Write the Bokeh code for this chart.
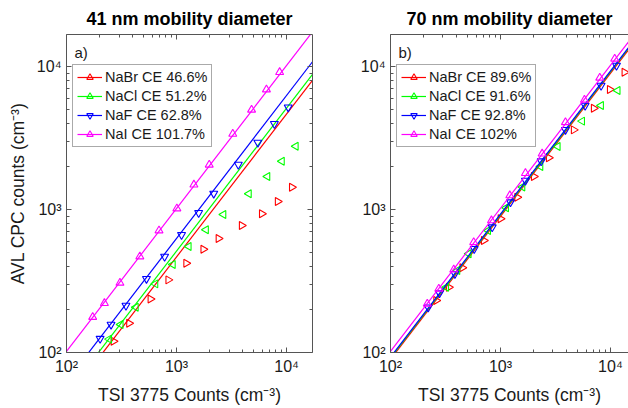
import math
from bokeh.plotting import figure
from bokeh.layouts import row
from bokeh.models import (LogAxis, FixedTicker, CustomJSTickFormatter, Legend,
                          LegendItem, Label, Range1d)
from bokeh.embed import file_html
from bokeh.resources import INLINE

# ---------------- data ----------------
SALTS = ["NaBr", "NaCl", "NaF", "NaI"]
COLORS = ["#ff0000", "#00ff00", "#0000ff", "#ff00ff"]
MARKERS = ["triangle", "triangle", "inverted_triangle", "triangle"]
ANGLES = [-math.pi / 2, math.pi / 2, 0.0, 0.0]   # right, left, down, up

# 41 nm panel: counting efficiency (%) and points (TSI counts, AVL counts)
ce_41 = [46.6, 51.2, 62.8, 101.7]
ce_41_text = ["46.6", "51.2", "62.8", "101.7"]
nabr_41_x = [267, 370, 579, 841, 1223, 1750, 2405, 3910, 5955, 8300, 11160]
nabr_41_y = [120, 160, 237, 322, 421, 528, 627, 773, 933, 1138, 1432]
nacl_41_x = [244, 311, 427, 643, 926, 1291, 1853, 2670, 4545, 6700, 9070, 12130]
nacl_41_y = [124, 157, 207, 302, 413, 551, 721, 923, 1288, 1701, 2176, 2772]
naf_41_x = [202, 254, 347, 533, 779, 1110, 1588, 2177, 3642, 5480, 7750, 10350]
naf_41_y = [125, 157, 213, 328, 469, 665, 948, 1294, 2063, 2943, 3975, 5190]
nai_41_x = [173, 221, 306, 464, 693, 1007, 1438, 1982, 3243, 4808, 6560, 8650]
nai_41_y = [177, 221, 307, 469, 713, 1016, 1490, 2055, 3381, 4980, 6900, 9120]

# 70 nm panel
ce_70 = [89.6, 91.6, 92.8, 102.0]
ce_70_text = ["89.6", "91.6", "92.8", "102"]
nabr_70_x = [260, 339, 449, 705, 1000, 1419, 2009, 2748, 4634, 7047, 9862, 13400]
nabr_70_y = [231, 286, 391, 607, 861, 1219, 1702, 2301, 3606, 5105, 6900, 9120]
nacl_70_x = [321, 406, 515, 773, 1127, 1585, 2311, 3319, 5533, 8222, 11640]
nacl_70_y = [286, 374, 490, 713, 1028, 1436, 2000, 2762, 4150, 5333, 6792]
naf_70_x = [220, 279, 385, 577, 841, 1233, 1687, 2344, 3899, 5888, 8222, 11350]
naf_70_y = [207, 260, 355, 531, 752, 1125, 1595, 2178, 3606, 5333, 7362, 10160]
nai_70_x = [216, 275, 376, 571, 828, 1216, 1687, 2393, 3899, 5803, 8000, 10940]
nai_70_y = [219, 279, 380, 590, 838, 1253, 1795, 2455, 4074, 5848, 8337, 11330]

MAJOR_TICKS = [100, 1000, 10000]
MINOR_TICKS = [m * d for d in (100, 1000, 10000) for m in range(2, 10)]

X_LIM_41 = (100, 17200)
X_LIM_70 = (100, 14600)
Y_LIM = (100, 16750)

FONT = "Liberation Sans"
AX_COLOR = "#555555"
TXT = "#1a1a1a"

SUP = CustomJSTickFormatter(code="""
const s = {'0':'\u2070','1':'\u00b9','2':'\u00b2','3':'\u00b3','4':'\u2074',
           '5':'\u2075','6':'\u2076','7':'\u2077','8':'\u2078','9':'\u2079','-':'\u207b'};
const e = Math.round(Math.log10(tick));
return '10' + String(e).split('').map(c => s[c]).join('');
""")
BLANK = CustomJSTickFormatter(code="return '';")


def style_axis(ax, labels=True):
    ax.ticker = FixedTicker(ticks=MAJOR_TICKS, minor_ticks=MINOR_TICKS)
    ax.formatter = SUP if labels else BLANK
    ax.axis_line_color = AX_COLOR
    ax.axis_line_width = 1
    ax.major_tick_line_color = AX_COLOR
    ax.minor_tick_line_color = AX_COLOR
    ax.major_tick_in = 5
    ax.major_tick_out = 0
    ax.minor_tick_in = 3
    ax.minor_tick_out = 0
    ax.major_label_text_font = FONT
    ax.major_label_text_color = TXT
    ax.major_label_text_font_size = "16px" if labels else "0px"
    ax.major_label_standoff = 5 if labels else 0
    ax.axis_label_text_font = FONT
    ax.axis_label_text_font_size = "17.5px"
    ax.axis_label_text_font_style = "normal"
    ax.axis_label_text_color = TXT


def make_panel(title, xs, ys, ces, ce_texts, xlim, tag, width, border_left,
               border_right, right_axis, ylabel):
    p = figure(width=width, height=408, x_axis_type="log", y_axis_type="log",
               x_range=Range1d(*xlim), y_range=Range1d(*Y_LIM),
               output_backend="svg", toolbar_location=None,
               min_border_left=border_left, min_border_right=border_right,
               min_border_top=34, min_border_bottom=56,
               frame_width=width - border_left - border_right, frame_height=318)
    p.outline_line_color = None
    p.xgrid.visible = False
    p.ygrid.visible = False
    p.background_fill_color = "white"
    p.border_fill_color = "white"
    p.title.text = title
    p.title.align = "center"
    p.title.text_font = FONT
    p.title.text_font_size = "18px"
    p.title.text_font_style = "bold"
    p.title.text_color = "#000000"
    p.title.standoff = 12

    style_axis(p.xaxis[0])
    style_axis(p.yaxis[0])
    p.xaxis[0].axis_label = "TSI 3775 Counts (cm\u207b\u00b3)"
    p.xaxis[0].axis_label_standoff = 7
    if ylabel:
        p.yaxis[0].axis_label = "AVL CPC counts (cm\u207b\u00b3)"
        p.yaxis[0].axis_label_standoff = 6

    top = LogAxis()
    style_axis(top, labels=False)
    p.add_layout(top, "above")
    if right_axis:
        rt = LogAxis()
        style_axis(rt, labels=False)
        p.add_layout(rt, "right")

    items = []
    for i, salt in enumerate(SALTS):
        c = COLORS[i]
        fit_y = [ces[i] / 100.0 * v for v in xlim]
        lr = p.line(list(xlim), fit_y, line_color=c, line_width=1.2)
        sr = p.scatter(xs[i], ys[i], marker=MARKERS[i], angle=ANGLES[i],
                       size=8, fill_color=None, line_color=c, line_width=1.1)
        items.append(LegendItem(label=f"{salt} CE {ce_texts[i]}%", renderers=[lr, sr]))

    leg = Legend(items=items, location=(6, 205))
    leg.label_text_font = FONT
    leg.label_text_font_size = "14.5px"
    leg.label_text_color = TXT
    leg.glyph_width = 25
    leg.glyph_height = 16
    leg.label_height = 16
    leg.label_standoff = 3
    leg.spacing = 3
    leg.padding = 4
    leg.margin = 0
    leg.border_line_color = "#555555"
    leg.border_line_width = 1
    leg.background_fill_color = "white"
    leg.background_fill_alpha = 1
    p.add_layout(leg, "center")

    p.add_layout(Label(x=8, y=300, x_units="screen", y_units="screen", text=tag,
                       text_font=FONT, text_font_size="15px", text_color=TXT,
                       text_baseline="middle"))
    return p


p1 = make_panel("41 nm mobility diameter",
                [nabr_41_x, nacl_41_x, naf_41_x, nai_41_x],
                [nabr_41_y, nacl_41_y, naf_41_y, nai_41_y],
                ce_41, ce_41_text, X_LIM_41, "a)", 340, 66, 28, True, True)
p2 = make_panel("70 nm mobility diameter",
                [nabr_70_x, nacl_70_x, naf_70_x, nai_70_x],
                [nabr_70_y, nacl_70_y, naf_70_y, nai_70_y],
                ce_70, ce_70_text, X_LIM_70, "b)", 288, 50, 0, False, False)

layout = row(p1, p2)
open("out.html", "w").write(file_html(layout, INLINE))
